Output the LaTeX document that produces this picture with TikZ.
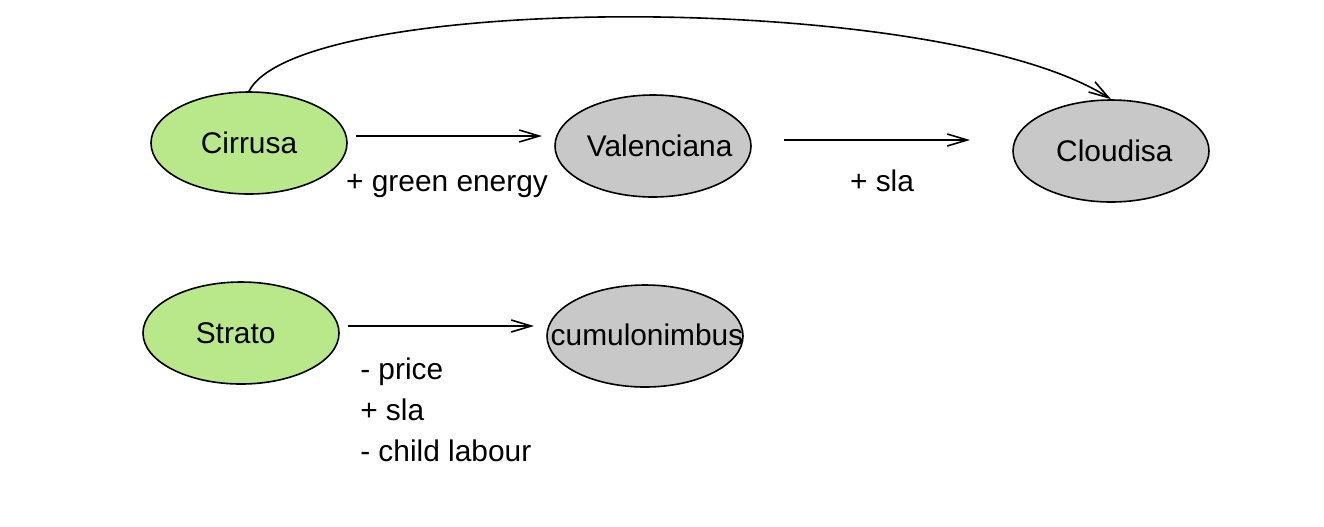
\documentclass[tikz,border=0pt]{standalone}
\usepackage{fontspec}
\setmainfont{Liberation Sans}
\usetikzlibrary{shapes.geometric,arrows.meta}
\begin{document}
\begin{tikzpicture}[x=0.75pt,y=-0.75pt,
  every node/.style={font=\fontsize{22.4}{26}\selectfont},
  blob/.style={ellipse,draw=black,line width=1.2pt,minimum width=147pt,minimum height=76.5pt,inner sep=0pt},
  arr/.style={line width=1.2pt,-{Straight Barb[length=15pt,width=9pt,line width=1.2pt]}},
  lbl/.style={inner sep=0pt,anchor=base}]
\useasboundingbox (0,0) rectangle (1324,526);
\definecolor{gr}{HTML}{B9E88A}
\definecolor{gy}{HTML}{C8C8C8}
\node[blob,fill=gr] (cir) at (249,143) {\makebox[0pt]{Cirrusa}};
\node[blob,fill=gy] (val) at (653,146) {\makebox[0pt]{\hspace{10pt}Valenciana}};
\node[blob,fill=gy] (clo) at (1111,151) {\makebox[0pt]{\hspace{5pt}Cloudisa}};
\node[blob,fill=gr] (str) at (241,333) {\makebox[0pt]{\hspace{-8pt}Strato}};
\node[blob,fill=gy] (cum) at (645,336) {\makebox[0pt]{\hspace{3pt}\raisebox{2pt}{cumulonimbus}}};
\coordinate (a1s) at (356,136);
\coordinate (a1e) at (542,136);
\coordinate (a2s) at (784,140);
\coordinate (a2e) at (970,140);
\coordinate (a3s) at (348,326);
\coordinate (a3e) at (534,326);
\draw[arr] (a1s) -- (a1e);
\draw[arr] (a2s) -- (a2e);
\draw[arr] (a3s) -- (a3e);
\draw[arr] (cir.north) .. controls (300,-8) and (940,-10) .. (clo.north);
\node[lbl] (l1) at (447,191) {+ green energy};
\node[lbl] (l2) at (882,191) {+ sla};
\node[lbl,anchor=base west] (l3) at (360,379) {- price};
\node[lbl,anchor=base west] (l4) at (360,420) {+ sla};
\node[lbl,anchor=base west] (l5) at (360,461) {- child labour};
\end{tikzpicture}
\end{document}
